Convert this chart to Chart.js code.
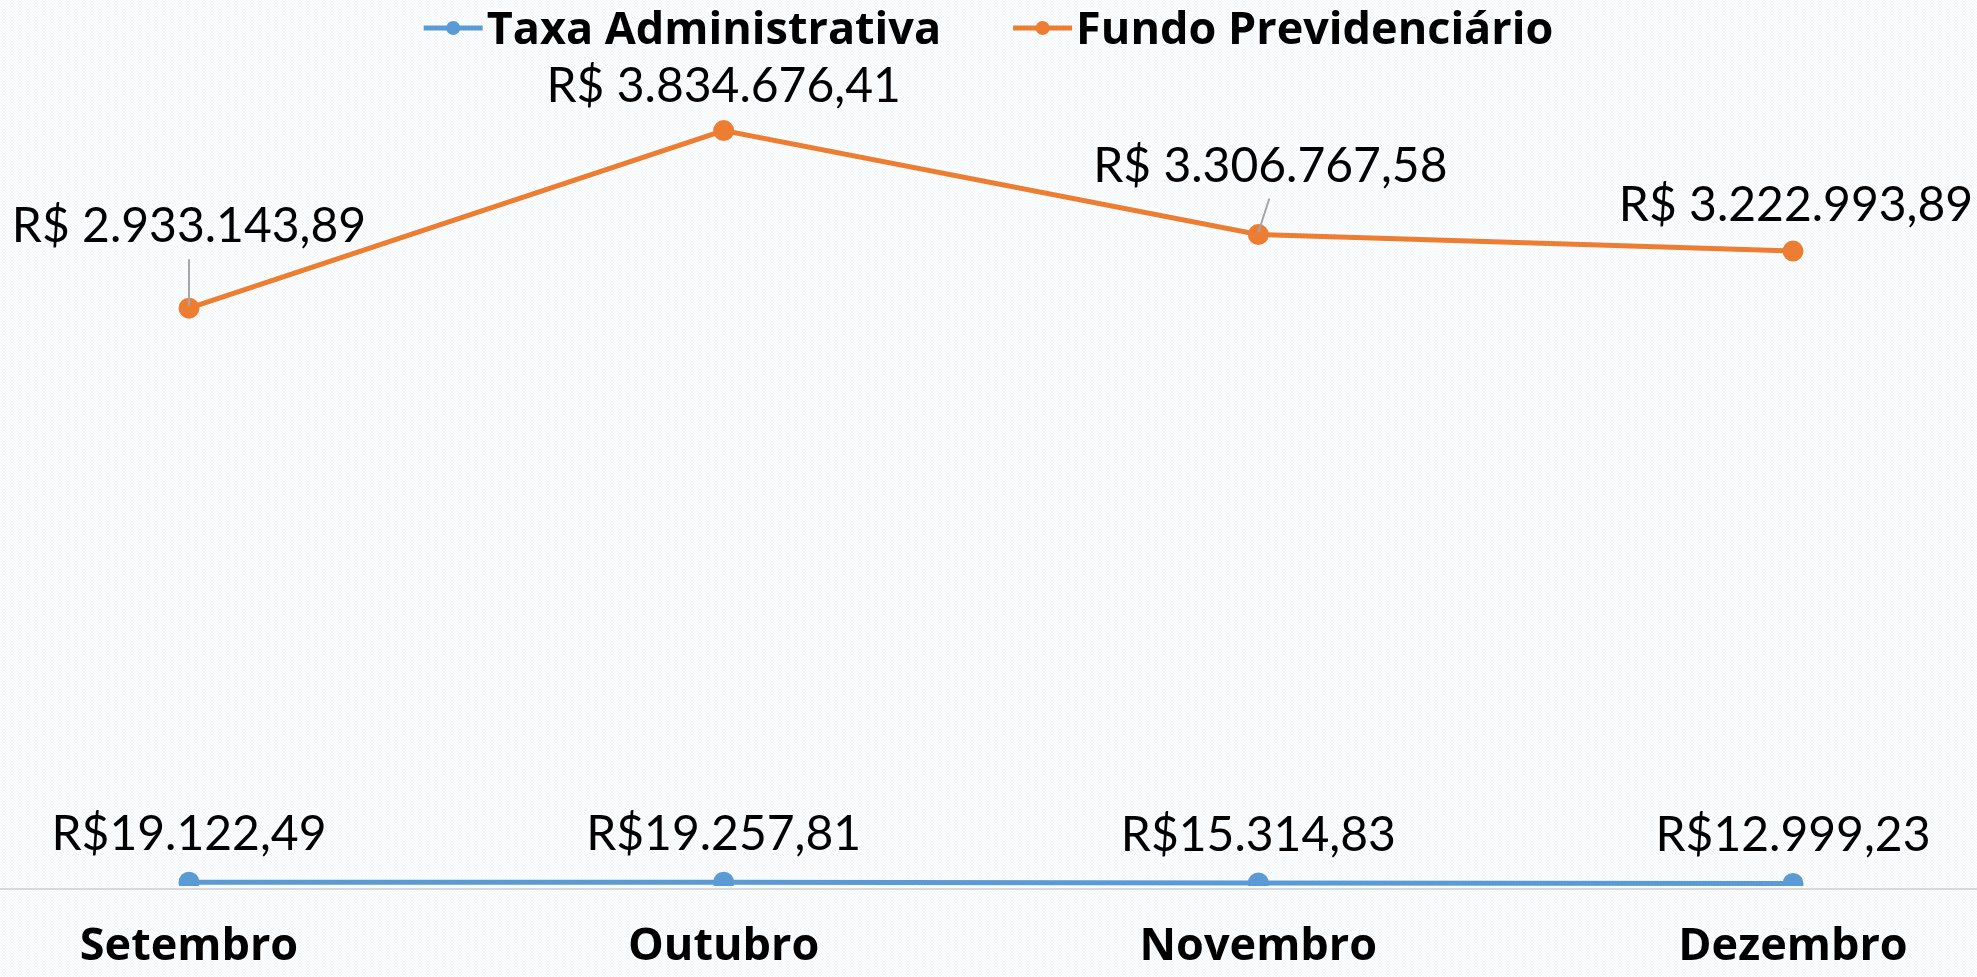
<!DOCTYPE html>
<html>
<head>
<meta charset="utf-8">
<script src="https://cdn.jsdelivr.net/npm/chart.js@4.4.0/dist/chart.umd.min.js"></script>
<style>
  html, body { margin: 0; padding: 0; background: #fff; }
  #wrap { width: 1977px; height: 977px; }
</style>
</head>
<body>
<div id="wrap"><canvas id="lineChart" width="1977" height="977"></canvas></div>
<script>
const months = ['Setembro', 'Outubro', 'Novembro', 'Dezembro'];
const taxaAdministrativa = [19122.49, 19257.81, 15314.83, 12999.23];
const fundoPrevidenciario = [2933143.89, 3834676.41, 3306767.58, 3222993.89];
const seriesNames = ['Taxa Administrativa', 'Fundo Previdenciário'];

const BLUE = '#5B9BD5';
const ORANGE = '#ED7D31';

// label placement (baseline offset from point, horizontal shift), per dataset
const labelLift = [[-32, -32, -32, -32], [-66, -29, -53, -30]];
const labelShift = [[0, 0, 0, 0], [0, 0, 12, 3]];
// leader lines: end point relative to marker
const leaders = [{}, { 0: [0, -49], 2: [11, -36] }];
const currencyGap = ['', ' '];

function brl(v) {
  const [int, dec] = v.toFixed(2).split('.');
  return int.replace(/\B(?=(\d{3})+(?!\d))/g, '.') + ',' + dec;
}

// light blue dotted background like the original sheet
const tile = document.createElement('canvas');
tile.width = 3; tile.height = 3;
const tctx = tile.getContext('2d');
tctx.fillStyle = '#ffffff';
tctx.fillRect(0, 0, 3, 3);
tctx.fillStyle = '#edf5fc';
tctx.fillRect(0, 0, 1, 1);
tctx.fillRect(1, 1, 1, 1);
tctx.fillRect(2, 2, 1, 1);

const background = {
  id: 'background',
  beforeDraw(chart) {
    const c = chart.ctx;
    c.save();
    c.fillStyle = c.createPattern(tile, 'repeat');
    c.fillRect(0, 0, chart.width, chart.height);
    c.restore();
  }
};

const baseLine = {
  id: 'baseLine',
  beforeDatasetsDraw(chart) {
    const c = chart.ctx;
    const y = chart.scales.y.getPixelForValue(0);
    c.save();
    c.strokeStyle = '#d9d9d9';
    c.lineWidth = 2;
    c.beginPath();
    c.moveTo(0, y + 3);
    c.lineTo(chart.width, y + 3);
    c.stroke();
    c.restore();
  }
};

const valueLabels = {
  id: 'valueLabels',
  afterDraw(chart) {
    const c = chart.ctx;
    c.save();
    c.font = '48px Lato';
    c.fillStyle = '#000';
    c.textAlign = 'center';
    c.textBaseline = 'alphabetic';
    chart.data.datasets.forEach((ds, i) => {
      chart.getDatasetMeta(i).data.forEach((pt, j) => {
        const lead = leaders[i][j];
        if (lead) {
          c.strokeStyle = '#a6a6a6';
          c.lineWidth = 2;
          c.beginPath();
          c.moveTo(pt.x, pt.y - 2);
          c.lineTo(pt.x + lead[0], pt.y + lead[1]);
          c.stroke();
        }
        const txt = 'R$' + currencyGap[i] + brl(ds.data[j]);
        c.fillText(txt, pt.x + labelShift[i][j], pt.y + labelLift[i][j]);
      });
    });
    c.restore();
  }
};

const legendBar = {
  id: 'legendBar',
  afterDraw(chart) {
    const c = chart.ctx;
    c.save();
    c.font = 'bold 45px "Open Sans"';
    c.textBaseline = 'alphabetic';
    c.textAlign = 'left';
    const sym = 59, gap = 4, between = 72;
    const widths = chart.data.datasets.map(d => c.measureText(d.label).width);
    const total = widths.reduce((a, w) => a + sym + gap + w, 0) + between;
    let x = (chart.width - total) / 2;
    const y = 44;
    chart.data.datasets.forEach((d, i) => {
      const cy = y - 16;
      c.strokeStyle = d.borderColor;
      c.lineWidth = 5;
      c.beginPath();
      c.moveTo(x, cy);
      c.lineTo(x + sym, cy);
      c.stroke();
      c.fillStyle = d.borderColor;
      c.beginPath();
      c.arc(x + sym / 2, cy, 7, 0, Math.PI * 2);
      c.fill();
      c.fillStyle = '#000';
      c.fillText(d.label, x + sym + gap, y);
      x += sym + gap + widths[i] + between;
    });
    c.restore();
  }
};

const ctx = document.getElementById('lineChart').getContext('2d');
const chart = new Chart(ctx, {
  type: 'line',
  data: {
    labels: months,
    datasets: [
      {
        label: seriesNames[0],
        data: taxaAdministrativa,
        borderColor: BLUE,
        backgroundColor: BLUE,
        borderWidth: 5,
        pointRadius: 8,
        pointHoverRadius: 8,
        tension: 0
      },
      {
        label: seriesNames[1],
        data: fundoPrevidenciario,
        borderColor: ORANGE,
        backgroundColor: ORANGE,
        borderWidth: 5,
        pointRadius: 8,
        pointHoverRadius: 8,
        tension: 0
      }
    ]
  },
  options: {
    responsive: false,
    devicePixelRatio: 1,
    animation: false,
    layout: { padding: { top: 98, left: 189, right: 184, bottom: 5 } },
    plugins: {
      legend: { display: false },
      tooltip: { enabled: false }
    },
    scales: {
      x: {
        offset: false,
        grid: { display: false, drawTicks: false },
        border: { display: false },
        ticks: {
          color: '#000',
          padding: 34,
          font: { family: 'Open Sans', weight: 'bold', size: 45 }
        },
        afterFit(scale) { scale.height = 86; }
      },
      y: {
        display: false,
        min: 0,
        max: 4000000
      }
    }
  },
  plugins: [background, baseLine, valueLabels, legendBar]
});
</script>
</body>
</html>
